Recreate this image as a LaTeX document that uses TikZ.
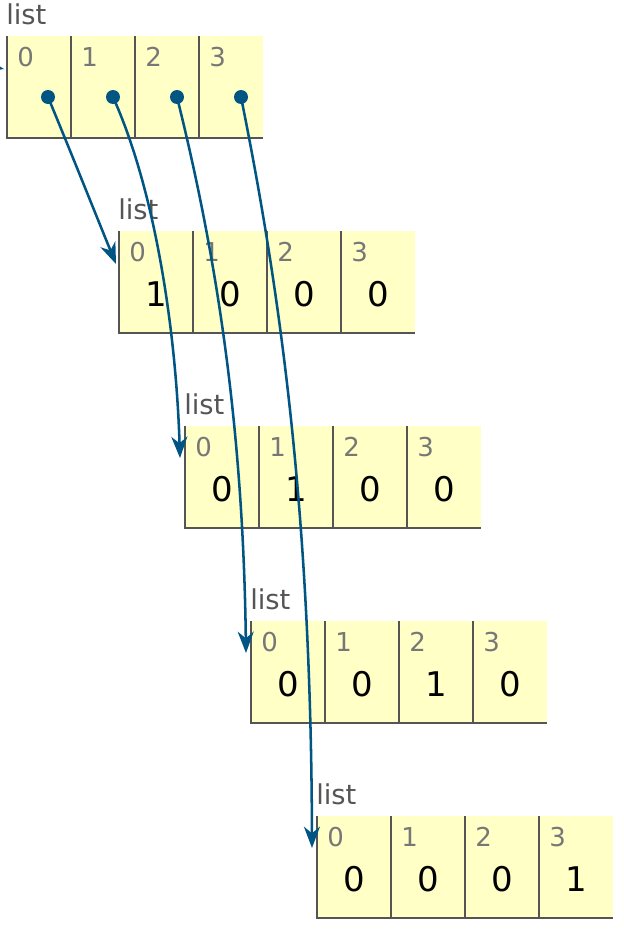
\documentclass[tikz,border=0pt]{standalone}
\usepackage{fontspec}
\setmainfont{DejaVu Sans}
\usetikzlibrary{arrows.meta}
\definecolor{ptblue}{HTML}{005583}
\definecolor{ptyellow}{HTML}{FFFFC6}
\definecolor{ptborder}{HTML}{555555}
\definecolor{ptidx}{HTML}{777777}
\newcommand\pyarray[5]{% name, left, top, cell width, values
  \fill[ptyellow] (#2,#3) rectangle ({#2+4*#4},{#3+102});
  \draw[frameline] (#2,#3) -- (#2,{#3+102}) -- ({#2+4*#4},{#3+102});
  \foreach \k in {1,2,3} \draw[frameline] ({#2+\k*#4},#3) -- ({#2+\k*#4},{#3+102});
  \node[typelbl] (#1-lbl) at ({#2-1},{#3-12}) {list};
  \foreach \v [count=\i from 0] in {#5} {
    \node[idxlbl] (#1-i\i) at ({#2+\i*#4+10},{#3+30}) {\i};
    \node[vallbl] (#1-v\i) at ({#2+(\i+0.5)*#4},{#3+75}) {\v};
  }
}
\begin{document}
\begin{tikzpicture}[x=0.75pt,y=-0.75pt,
  frameline/.style={draw=ptborder,line width=1.9pt},
  typelbl/.style={anchor=base west,inner sep=0pt,text=ptborder,font=\fontsize{20.5}{24}\selectfont},
  idxlbl/.style={anchor=base west,inner sep=0pt,text=ptidx,font=\fontsize{19.5}{22}\selectfont},
  vallbl/.style={anchor=base,inner sep=0pt,text=black,font=\fontsize{25.5}{30}\selectfont},
  dot/.style={circle,fill=ptblue,inner sep=0pt,minimum size=10.5pt},
  ptr/.style={draw=ptblue,line width=1.9pt,-{Stealth[length=16pt,width=12pt,inset=5pt]}}]
\useasboundingbox (0,0) rectangle (624,932);

\pyarray{L0}{7}{36}{64}{{},{},{},{}}
\pyarray{L1}{119}{231}{74}{1,0,0,0}
\pyarray{L2}{185}{426}{74}{0,1,0,0}
\pyarray{L3}{251}{621}{74}{0,0,1,0}
\pyarray{L4}{317}{816}{74}{0,0,0,1}

\node[dot] (d0) at (48,97) {};
\node[dot] (d1) at (113,97) {};
\node[dot] (d2) at (177,97) {};
\node[dot] (d3) at (241,97) {};

\coordinate (t1) at (116,264);
\coordinate (t2) at (180,458);
\coordinate (t3) at (246,653);
\coordinate (t4) at (312,848);

\draw[ptr] (d0.center) .. controls (70,150) and (100,225) .. (t1);
\draw[ptr] (d1.center) .. controls (155,190) and (176,330) .. (t2);
\draw[ptr] (d2.center) .. controls (215,250) and (243,420) .. (t3);
\draw[ptr] (d3.center) .. controls (282,300) and (311,520) .. (t4);

\coordinate (src) at (-40,60);
\coordinate (tin) at (4,69);
\draw[ptr] (src) -- (tin);
\end{tikzpicture}
\end{document}
